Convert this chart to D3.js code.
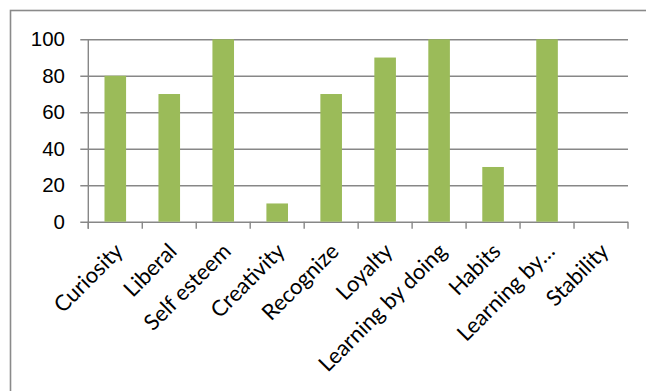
<!DOCTYPE html>
<html>
<head>
<meta charset="utf-8">
<script src="https://cdn.jsdelivr.net/npm/d3@7/dist/d3.min.js"></script>
<style>
  html, body { margin: 0; padding: 0; background: #ffffff; }
  svg { display: block; }
</style>
</head>
<body>
<script>
// Scores per attribute
const categories = ["Curiosity", "Liberal", "Self esteem", "Creativity", "Recognize",
                    "Loyalty", "Learning by doing", "Habits", "Learning by…", "Stability"];
const values = [80, 70, 100, 10, 70, 90, 100, 30, 100, 0];
const yTicks = [0, 20, 40, 60, 80, 100];

const W = 646, H = 391;
const plot = { left: 88.3, right: 628, top: 39.3, bottom: 221.7 };
const gridColor = "#878787";
const barColor = "#9BBB59";

const svg = d3.select("body").append("svg")
  .attr("width", W).attr("height", H);

// chart frame
svg.append("rect")
  .attr("x", 10.5).attr("y", 10.5)
  .attr("width", 700).attr("height", 500)
  .attr("fill", "none").attr("stroke", "#8a8a8a").attr("stroke-width", 1.6);

const x = d3.scaleBand()
  .domain(categories)
  .range([plot.left, plot.right])
  .paddingInner(0.6).paddingOuter(0.3);

const y = d3.scaleLinear().domain([0, 100]).range([plot.bottom, plot.top]);

// horizontal gridlines with left ticks
const yAxis = d3.axisLeft(y)
  .tickValues(yTicks)
  .tickSize(plot.right - plot.left + 8)
  .tickPadding(15)
  .tickFormat(d3.format("d"));

const gy = svg.append("g")
  .attr("transform", `translate(${plot.right},0)`)
  .call(yAxis);
gy.select(".domain").remove();
gy.selectAll(".tick line").attr("stroke", gridColor).attr("stroke-width", 1.4);
gy.selectAll(".tick text")
  .attr("x", -(plot.right - 65))
  .attr("text-anchor", "end")
  .attr("fill", "#000")
  .style("font-family", "'Liberation Sans', Arial, sans-serif")
  .style("font-size", "20.5px");

// bars
svg.append("g").selectAll("rect")
  .data(values)
  .join("rect")
  .attr("x", (d, i) => x(categories[i]))
  .attr("width", x.bandwidth())
  .attr("y", d => y(d))
  .attr("height", d => y(0) - y(d))
  .attr("fill", barColor);

// vertical axis line
svg.append("line")
  .attr("x1", plot.left).attr("x2", plot.left)
  .attr("y1", plot.top).attr("y2", plot.bottom + 7)
  .attr("stroke", gridColor).attr("stroke-width", 1.4);

// category boundary ticks below the baseline
const step = x.step();
const boundaries = d3.range(categories.length + 1).map(i => plot.left + i * step);
svg.append("g").selectAll("line")
  .data(boundaries)
  .join("line")
  .attr("x1", d => d).attr("x2", d => d)
  .attr("y1", plot.bottom).attr("y2", plot.bottom + 7)
  .attr("stroke", gridColor).attr("stroke-width", 1.4);

// rotated category labels
svg.append("g").selectAll("text")
  .data(categories)
  .join("text")
  .attr("transform", d => `translate(${x(d) + x.bandwidth() / 2 + 9},${plot.bottom + 31}) rotate(-45)`)
  .attr("text-anchor", "end")
  .attr("fill", "#000")
  .style("font-family", "Lato, 'Open Sans', sans-serif")
  .style("font-size", "22px")
  .text(d => d);
</script>
</body>
</html>
